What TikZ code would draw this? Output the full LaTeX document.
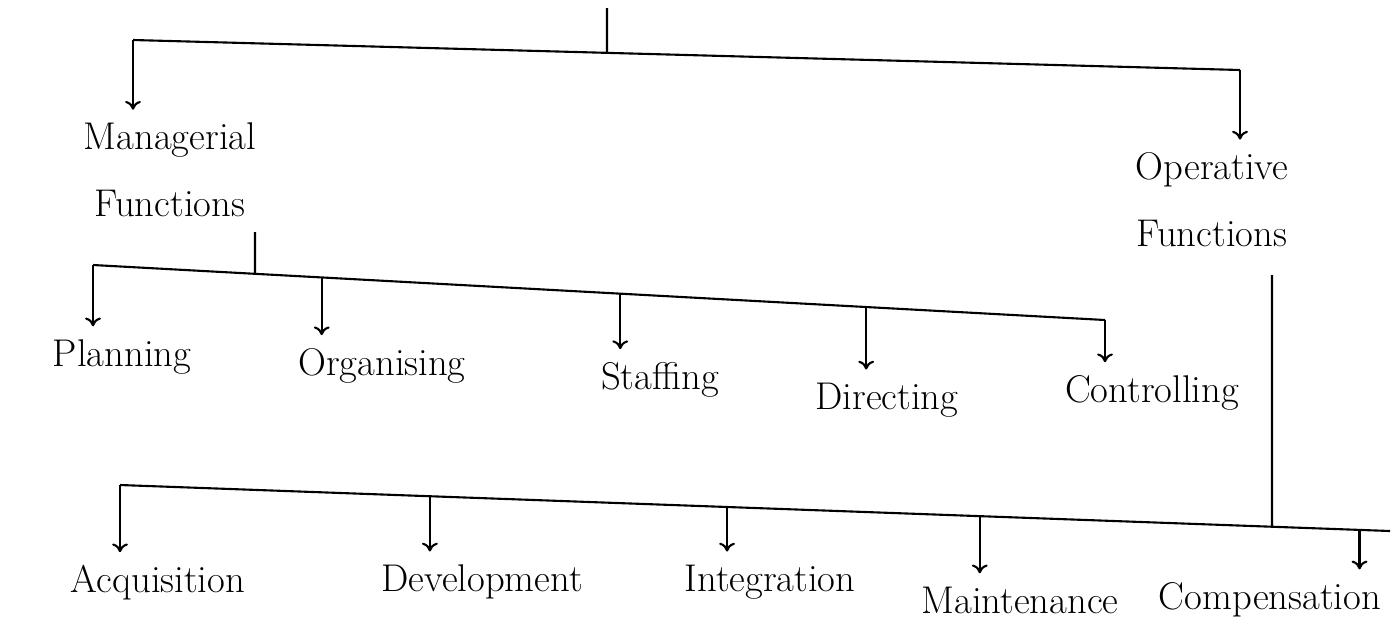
\documentclass[tikz,border=0pt]{standalone}
\usetikzlibrary{arrows.meta,calc}
\begin{document}
\begin{tikzpicture}[x=0.02cm, y=-0.02cm, line width=1.2pt,
    func/.style={font=\fontsize{22}{38}\selectfont, align=center, inner sep=0pt},
    freccia/.style={-{To[length=5pt,width=9pt]}, shorten >=7pt}]

    % Area del foglio
    \useasboundingbox (0,0) rectangle (1398,640);

    % Funzioni principali
    \node[func] (manag) at (170,170) {Managerial\\Functions};
    \node[func] (operat) at (1212,200) {Operative\\Functions};

    % Barra superiore
    \coordinate (radice) at (607,8);
    \coordinate (radiceGiu) at (607,100);
    \coordinate (barraSa) at (133,40);
    \coordinate (barraSb) at (1240,70);
    \draw (barraSa) -- (barraSb);
    \draw (radice) -- (intersection of barraSa--barraSb and radice--radiceGiu);
    \draw[freccia] (barraSa) -- (barraSa |- manag.north);
    \draw[freccia] (barraSb) -- (barraSb |- operat.north);

    % Funzioni manageriali
    \coordinate (barraMa) at (93,265);
    \coordinate (barraMb) at (1105,320);
    \coordinate (gambaM) at (255,232);
    \coordinate (gambaMgiu) at (255,330);
    \draw (barraMa) -- (barraMb);
    \draw (gambaM) -- (intersection of barraMa--barraMb and gambaM--gambaMgiu);
    \foreach \nome/\testo/\x/\y/\t in {plan/Planning/122/357/0, org/Organising/382/366/0.226,
        staff/Staffing/660/380/0.521, dir/Directing/887/400/0.764, contr/Controlling/1152/393/1}
    {
        \node[func] (\nome) at (\x,\y) {\testo};
        \coordinate (p) at ($(barraMa)!\t!(barraMb)$);
        \draw[freccia] (p) -- (p |- \nome.north);
    }

    % Funzioni operative
    \coordinate (barraOa) at (120,485);
    \coordinate (barraOb) at (1390,531);
    \coordinate (gambaO) at (1272,275);
    \coordinate (gambaOgiu) at (1272,600);
    \draw (barraOa) -- (barraOb);
    \draw (gambaO) -- (intersection of barraOa--barraOb and gambaO--gambaOgiu);
    \foreach \nome/\testo/\x/\y/\t in {acq/Acquisition/158/583/0, dev/Development/482/582/0.244,
        integr/Integration/770/582/0.478, maint/Maintenance/1020/600/0.677, comp/Compensation/1270/600/0.976}
    {
        \node[func] (\nome) at (\x,\y) {\testo};
        \coordinate (p) at ($(barraOa)!\t!(barraOb)$);
        \draw[freccia] (p) -- (p |- \nome.north);
    }

\end{tikzpicture}
\end{document}
